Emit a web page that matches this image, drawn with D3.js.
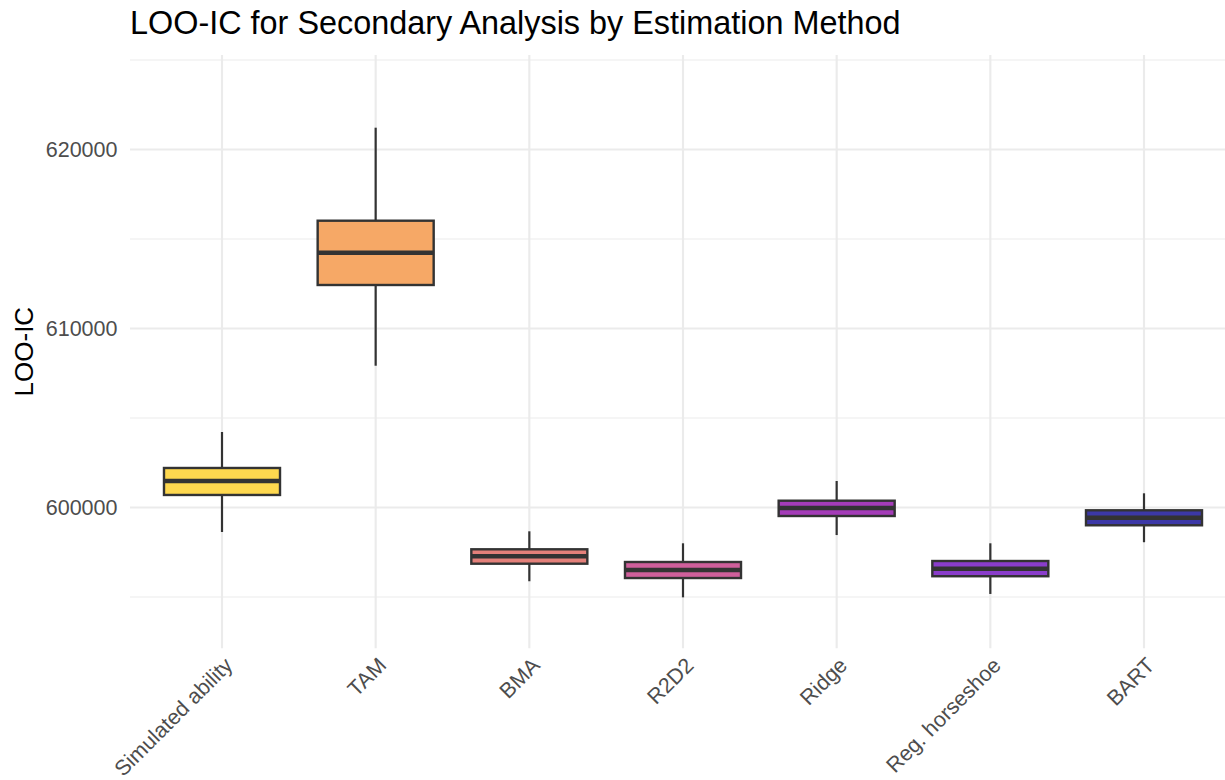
<!DOCTYPE html>
<html>
<head>
<meta charset="utf-8">
<script src="https://cdn.jsdelivr.net/npm/d3@7"></script>
<style>
  html, body { margin: 0; padding: 0; background: #fff; }
  text { font-family: "Liberation Sans", Arial, Helvetica, sans-serif; }
</style>
</head>
<body>
<svg id="chart" width="1225" height="780"></svg>
<script>
// ---- data ----
const categories = ["Simulated ability", "TAM", "BMA", "R2D2", "Ridge", "Reg. horseshoe", "BART"];
const whiskerLow  = [598630, 607920, 595880, 594980, 598460, 595170, 598060];
const q1          = [600700, 612430, 596860, 596060, 599525, 596160, 599006];
const medians     = [601480, 614235, 597274, 596508, 599972, 596581, 599430];
const q3          = [602207, 616022, 597665, 596955, 600380, 597011, 599844];
const whiskerHigh = [604218, 621218, 598670, 598000, 601480, 598000, 600793];
const fillColors  = ["#FED84F", "#F6A866", "#E4807A", "#CF5F9B", "#A43CB8", "#8A3DCB", "#3C38A7"];
const majorTicks  = [600000, 610000, 620000];
const minorTicks  = [595000, 605000, 615000, 625000];
const titleText = "LOO-IC for Secondary Analysis by Estimation Method";
const yTitle = "LOO-IC";

const W = 1225, H = 780;
const panel = { left: 130, right: 1225, top: 55, bottom: 648.3 };

const svg = d3.select("#chart");

const y = d3.scaleLinear()
  .domain([592134, 625279])
  .range([panel.bottom, panel.top]);

const x = d3.scalePoint()
  .domain(categories)
  .range([222, 1144]);

const step = x.step();
const boxW = step * 0.755;

// gridlines
const grid = svg.append("g");
grid.selectAll("line.minor").data(minorTicks).join("line")
  .attr("x1", panel.left).attr("x2", panel.right)
  .attr("y1", d => y(d)).attr("y2", d => y(d))
  .attr("stroke", "#EBEBEB").attr("stroke-width", 1.1);
grid.selectAll("line.major").data(majorTicks).join("line")
  .attr("x1", panel.left).attr("x2", panel.right)
  .attr("y1", d => y(d)).attr("y2", d => y(d))
  .attr("stroke", "#EBEBEB").attr("stroke-width", 2.1);
grid.selectAll("line.vert").data(categories).join("line")
  .attr("x1", d => x(d)).attr("x2", d => x(d))
  .attr("y1", panel.top).attr("y2", panel.bottom)
  .attr("stroke", "#EBEBEB").attr("stroke-width", 2.1);

// y axis labels (via d3 axis, domain/ticks hidden)
const yAxis = d3.axisLeft(y).tickValues(majorTicks).tickFormat(d3.format("d")).tickSize(0).tickPadding(12.5);
const yg = svg.append("g").attr("transform", `translate(${panel.left},0)`).call(yAxis);
yg.select(".domain").remove();
yg.selectAll("text")
  .attr("font-size", "21.5px")
  .attr("fill", "#4D4D4D")
  .attr("font-family", "'Liberation Sans', Arial, sans-serif");

// x axis labels
const xAxis = d3.axisBottom(x).tickSize(0).tickPadding(0);
const xg = svg.append("g").attr("transform", `translate(0,${panel.bottom})`).call(xAxis);
xg.select(".domain").remove();
xg.selectAll("text")
  .attr("font-size", "21.5px")
  .attr("fill", "#4D4D4D")
  .attr("font-family", "'Liberation Sans', Arial, sans-serif")
  .attr("text-anchor", "end")
  .attr("y", 0).attr("dy", "0.75em")
  .attr("transform", "translate(0,7) rotate(-45)");

// boxes
const idx = d3.range(categories.length);
const boxes = svg.append("g");
const stroke = "#333333";

// whiskers
boxes.selectAll("line.wl").data(idx).join("line")
  .attr("x1", i => x(categories[i])).attr("x2", i => x(categories[i]))
  .attr("y1", i => y(whiskerLow[i])).attr("y2", i => y(q1[i]))
  .attr("stroke", stroke).attr("stroke-width", 2.2);
boxes.selectAll("line.wh").data(idx).join("line")
  .attr("x1", i => x(categories[i])).attr("x2", i => x(categories[i]))
  .attr("y1", i => y(q3[i])).attr("y2", i => y(whiskerHigh[i]))
  .attr("stroke", stroke).attr("stroke-width", 2.2);

boxes.selectAll("rect").data(idx).join("rect")
  .attr("x", i => x(categories[i]) - boxW / 2)
  .attr("width", boxW)
  .attr("y", i => y(q3[i]))
  .attr("height", i => y(q1[i]) - y(q3[i]))
  .attr("fill", i => fillColors[i])
  .attr("stroke", stroke).attr("stroke-width", 2.4);

boxes.selectAll("line.med").data(idx).join("line")
  .attr("x1", i => x(categories[i]) - boxW / 2).attr("x2", i => x(categories[i]) + boxW / 2)
  .attr("y1", i => y(medians[i])).attr("y2", i => y(medians[i]))
  .attr("stroke", stroke).attr("stroke-width", 4.4);

// titles
svg.append("text")
  .attr("x", 130).attr("y", 34.3)
  .attr("font-size", "32.4px").attr("fill", "#000")
  .text(titleText);

svg.append("text")
  .attr("transform", `translate(33,${(panel.top + panel.bottom) / 2}) rotate(-90)`)
  .attr("text-anchor", "middle")
  .attr("font-size", "26px").attr("fill", "#000")
  .text(yTitle);
</script>
</body>
</html>
